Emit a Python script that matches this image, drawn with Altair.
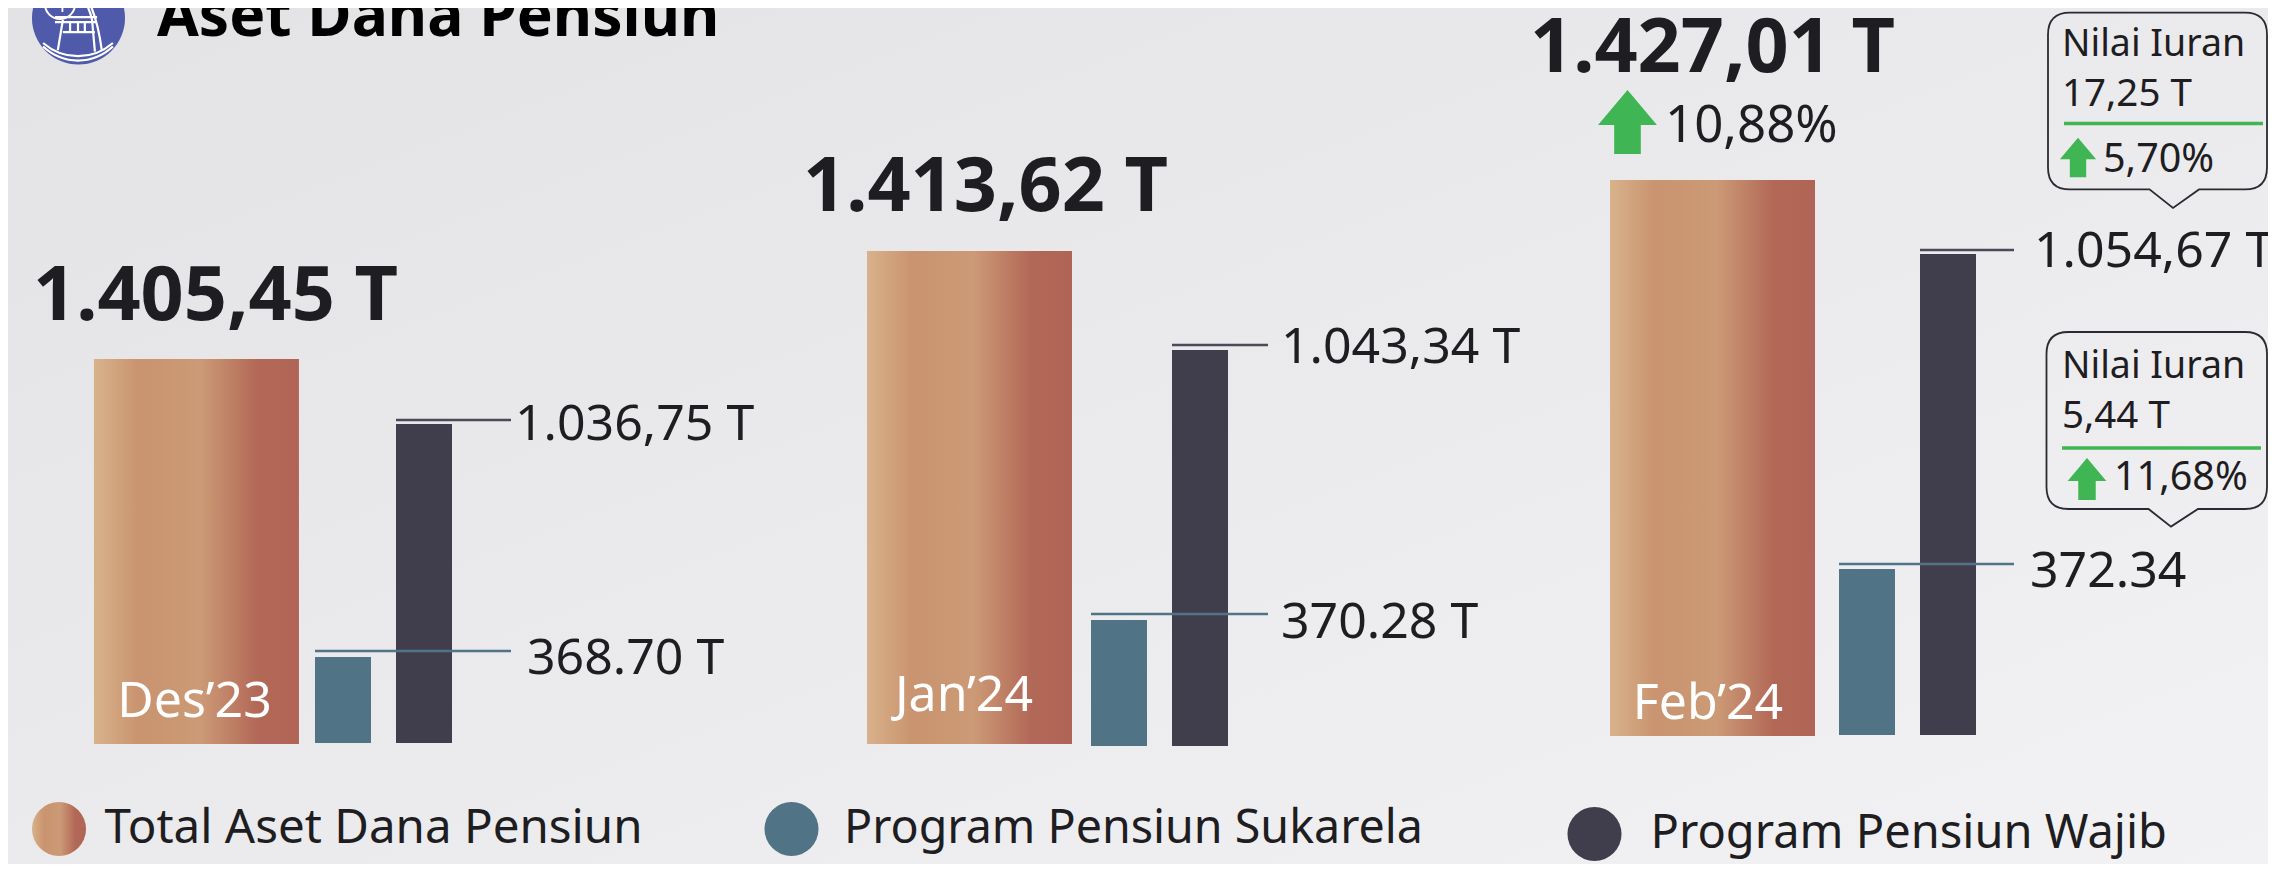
import altair as alt
import pandas as pd

# ---- values ----
months = ["Des’23", "Jan’24", "Feb’24"]
series = ["Total Aset Dana Pensiun", "Program Pensiun Sukarela", "Program Pensiun Wajib"]
total_values = [1405.45, 1413.62, 1427.01]
sukarela_values = [368.70, 370.28, 372.34]
wajib_values = [1036.75, 1043.34, 1054.67]
total_labels = ["1.405,45 T", "1.413,62 T", "1.427,01 T"]
sukarela_labels = ["368.70 T", "370.28 T", "372.34"]
wajib_labels = ["1.036,75 T", "1.043,34 T", "1.054,67 T"]

# ---- page layout (page pixels, the page margin is subtracted below) ----
M = 8
W, H = 2260, 856
FONT = "Noto Sans"
INK = "#1e1d21"
GREEN = "#3fb553"
C_SUK = "#507485"
C_WAJ = "#403e4c"
ROW = alt.Gradient(
    gradient="linear", x1=0, x2=1, y1=0, y2=0,
    stops=[
        alt.GradientStop(offset=0, color="#d8b28b"),
        alt.GradientStop(offset=0.22, color="#c9946f"),
        alt.GradientStop(offset=0.52, color="#cc9a76"),
        alt.GradientStop(offset=0.8, color="#b26857"),
        alt.GradientStop(offset=1, color="#b06455"),
    ],
)

# horizontal piecewise scale: slots are bar 0,1,2 and the leader end of each month
x_stops = [192, 343, 424, 511, 969.5, 1119, 1200, 1268, 1712.5, 1867, 1948, 2016]
x_scale = alt.Scale(domain=list(range(12)), range=[v - M for v in x_stops], nice=False, zero=False)

# each month has its own broken (non proportional) value scale: 0, sukarela, wajib, total
y_stops = [
    [743, 657, 424, 359],
    [746, 620, 350, 251],
    [735, 569, 254, 180],
]
total_base_nudge = [1, -2, 1]
wajib_line_nudge = [-4, -5, -4]
suk_line_nudge = [-6, -6, -5]

layers = []

one = pd.DataFrame({"k": [0]})

# background
layers.append(
    alt.Chart(one).mark_rect(
        color=alt.Gradient(
            gradient="linear", x1=0, x2=1, y1=0, y2=1,
            stops=[
                alt.GradientStop(offset=0, color="#e3e2e5"),
                alt.GradientStop(offset=1, color="#f2f2f4"),
            ],
        )
    ).encode(x=alt.value(0), x2=alt.value(W + 10), y=alt.value(0), y2=alt.value(H + 10))
)


def text(label, x, y, size, color=INK, weight="normal", align="left"):
    return alt.Chart(one).mark_text(
        font=FONT, fontSize=size, fontWeight=weight, color=color, align=align, baseline="middle"
    ).encode(x=alt.value(x - M), y=alt.value(y - M), text=alt.value(label))


def glyph(path, x, y, side, fill=None, stroke=None, sw=2):
    kw = {"shape": path, "size": side * side, "opacity": 1}
    if fill:
        kw.update(filled=True, fill=fill, strokeWidth=0)
    else:
        kw.update(filled=False, stroke=stroke, strokeWidth=sw, fill="transparent")
    return alt.Chart(one).mark_point(**kw).encode(x=alt.value(x - M), y=alt.value(y - M))


for m, month in enumerate(months):
    ys = alt.Scale(
        domain=[0, sukarela_values[m], wajib_values[m], total_values[m]],
        range=[v - M for v in y_stops[m]],
        nice=False, zero=False,
    )
    df = pd.DataFrame({
        "slot": [m * 4, m * 4 + 1, m * 4 + 2],
        "end": [m * 4 + 3] * 3,
        "value": [total_values[m], sukarela_values[m], wajib_values[m]],
        "series": series,
        "base": [0, 0, 0],
    })
    X = alt.X("slot:Q", scale=x_scale, axis=None)
    Y = alt.Y("value:Q", scale=ys, axis=None, stack=None)
    Y2 = alt.Y2("base:Q")
    layers.append(
        alt.Chart(df[df.slot == m * 4]).mark_bar(
            size=205, orient="vertical", color=ROW, y2Offset=total_base_nudge[m]
        ).encode(x=X, y=Y, y2=Y2)
    )
    layers.append(
        alt.Chart(df[df.slot == m * 4 + 1]).mark_bar(size=56, orient="vertical", color=C_SUK).encode(x=X, y=Y, y2=Y2)
    )
    layers.append(
        alt.Chart(df[df.slot == m * 4 + 2]).mark_bar(size=56, orient="vertical", color=C_WAJ).encode(x=X, y=Y, y2=Y2)
    )
    layers.append(
        alt.Chart(df[df.slot == m * 4 + 2]).mark_rule(
            color="#4b4a5a", strokeWidth=2.5, xOffset=-28, yOffset=wajib_line_nudge[m]
        ).encode(x=X, x2=alt.X2("end:Q"), y=Y)
    )
    layers.append(
        alt.Chart(df[df.slot == m * 4 + 1]).mark_rule(
            color=C_SUK, strokeWidth=2.5, xOffset=-28, yOffset=suk_line_nudge[m]
        ).encode(x=X, x2=alt.X2("end:Q"), y=Y)
    )

# title and icon
layers.append(alt.Chart(one).mark_point(filled=True, fill="#4f5baa", shape="circle", size=3.1416 * 52.5 ** 2, opacity=1, strokeWidth=0)
              .encode(x=alt.value(78.5 - M), y=alt.value(18 - M)))
CHAIR = ("M-0.97,0.36 C-0.4,0.85 0.4,0.85 0.97,0.36 "
         "M-0.97,0.46 C-0.4,0.98 0.4,0.98 0.97,0.46 "
         "M-0.42,-0.28 L-0.56,0.56 M0.39,-0.28 L0.47,0.6 "
         "M-0.64,-0.36 L0.53,-0.36 M-0.64,-0.22 L0.53,-0.22 M-0.42,0.06 L0.47,0.06 "
         "M-0.22,-0.19 L-0.22,0.06 M0,-0.19 L0,0.06 M0.19,-0.19 L0.19,0.06 "
         "M0.28,-0.83 C0.5,-0.4 0.6,0.1 0.66,0.56 M0.18,-0.83 C0.3,-0.6 0.36,-0.45 0.39,-0.28")
layers.append(glyph(CHAIR, 78, 30, 72, stroke="#ffffff", sw=2.2))
layers.append(alt.Chart(one).mark_point(filled=False, shape="circle", stroke="#ffffff", strokeWidth=2, size=3.1416 * 17 ** 2, opacity=1)
              .encode(x=alt.value(60 - M), y=alt.value(4 - M)))
layers.append(text("Rp", 60, 3, 18, color="#ffffff", align="center"))
layers.append(text("Aset Dana Pensiun", 157, 18, 60.5, color="#000000", weight="bold"))

# big totals
big_pos = [(33, 297), (803, 188), (1530, 49)]
for lab, (x, y) in zip(total_labels, big_pos):
    layers.append(text(lab, x, y, 75.5, weight="bold"))

# month names inside the bars
for lab, (x, y) in zip(months, [(194.5, 702), (964, 696), (1708, 704)]):
    layers.append(text(lab, x, y, 50, color="#ffffff", align="center"))

# leader labels
wajib_pos = [(515, 425), (1281, 348), (2034, 252)]
suk_pos = [(527, 659), (1281, 623), (2030, 572)]
for lab, (x, y) in zip(wajib_labels + sukarela_labels, wajib_pos + suk_pos):
    layers.append(text(lab, x, y, 50))

# arrows
ARROW = "M0,-1 L0.92,0.094 L0.416,0.094 L0.416,1 L-0.416,1 L-0.416,0.094 L-0.92,0.094 Z"
layers.append(glyph(ARROW, 1627.5, 122, 64, fill=GREEN))
layers.append(text("10,88%", 1665, 127, 51))


def bubble(left, top, right, bottom, px0, tipx, px1, tipy):
    # returns path in unit coordinates plus centre and side of the enclosing square
    side = max(right - left, tipy - top)
    cx, cy = (left + right) / 2, (top + tipy) / 2
    u = lambda x, y: f"{(x - cx) / (side / 2):.4f},{(y - cy) / (side / 2):.4f}"
    r = 22
    p = (f"M{u(left + r, top)} L{u(right - r, top)} Q{u(right, top)} {u(right, top + r)} "
         f"L{u(right, bottom - r)} Q{u(right, bottom)} {u(right - r, bottom)} "
         f"L{u(px1, bottom)} L{u(tipx, tipy)} L{u(px0, bottom)} "
         f"L{u(left + r, bottom)} Q{u(left, bottom)} {u(left, bottom - r)} "
         f"L{u(left, top + r)} Q{u(left, top)} {u(left + r, top)} Z")
    return p, cx, cy, side


callouts = [
    dict(box=(2048, 12.6, 2267, 189.4, 2149.5, 2173, 2199, 208), nilai="17,25 T", pct="5,70%",
         ny=45, vy=94, line=(2064, 2263, 123.6), arrow=(2078, 157.5, 39.4), pctpos=(2103, 160)),
    dict(box=(2046.5, 332, 2267, 509, 2148.5, 2171, 2198, 526.6), nilai="5,44 T", pct="11,68%",
         ny=367, vy=416, line=(2062, 2261, 448), arrow=(2087, 479, 42), pctpos=(2114, 478)),
]
for c in callouts:
    p, cx, cy, side = bubble(*c["box"])
    layers.append(glyph(p, cx, cy, side, stroke="#2a2a33", sw=1.8))
    layers.append(text("Nilai Iuran", 2062, c["ny"], 37.5))
    layers.append(text(c["nilai"], 2062, c["vy"], 38.5))
    x0, x1, ly = c["line"]
    layers.append(alt.Chart(one).mark_rule(color=GREEN, strokeWidth=3.5).encode(
        x=alt.value(x0 - M), x2=alt.value(x1 - M), y=alt.value(ly - M)))
    ax, ay, aside = c["arrow"]
    layers.append(glyph(ARROW, ax, ay, aside, fill=GREEN))
    layers.append(text(c["pct"], c["pctpos"][0], c["pctpos"][1], 39.5))

# legend
legend_pos = [(59, 829, 104.6), (791.5, 829, 844), (1594.5, 834, 1650.5)]
legend_fill = [ROW, C_SUK, C_WAJ]
legend_size = [47.5, 46.6, 47]
for name, (cx, cy, tx), fill, fs in zip(series, legend_pos, legend_fill, legend_size):
    layers.append(alt.Chart(one).mark_point(filled=True, fill=fill, shape="circle", size=3.1416 * 30.5 ** 2, opacity=1, strokeWidth=0)
                  .encode(x=alt.value(cx - M), y=alt.value(cy - M)))
    layers.append(text(name, tx, cy, fs))

chart = (
    alt.layer(*layers)
    .resolve_scale(y="independent")
    .properties(width=W, height=H, padding=0, autosize=alt.AutoSizeParams(type="none"))
    .configure_view(strokeWidth=0)
)

chart.save("out.html", embed_options={"renderer": "svg", "actions": False})
